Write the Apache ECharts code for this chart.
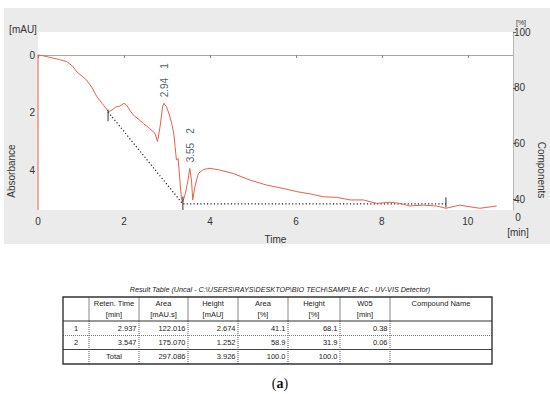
<!DOCTYPE html>
<html><head><meta charset="utf-8">
<script src="https://cdn.jsdelivr.net/npm/echarts@6/dist/echarts.min.js"></script>
<style>html,body{margin:0;padding:0;background:#fff}#c{width:550px;height:394px}</style>
</head><body><div id="c"></div>
<script>
// ---- data ----
const traceTime = [0, 0, 0.1, 0.27, 0.5, 0.67, 0.8, 0.9, 1.13, 1.25, 1.37, 1.5, 1.64, 1.7, 1.75, 1.82, 1.9, 2.0, 2.06, 2.14, 2.22, 2.35, 2.45, 2.6, 2.72, 2.78, 2.84, 2.9, 2.93, 2.99, 3.05, 3.11, 3.16, 3.19, 3.22, 3.26, 3.30, 3.34, 3.37, 3.43, 3.49, 3.53, 3.57, 3.60, 3.65, 3.73, 3.85, 4.0, 4.23, 4.54, 4.93, 5.31, 5.7, 6.02, 6.33, 6.64, 6.95, 7.26, 7.57, 7.88, 8.19, 8.42, 8.65, 8.96, 9.27, 9.49, 9.81, 10.05, 10.28, 10.67];
const traceAbs = [5.39, 0, 0.02, 0.08, 0.16, 0.23, 0.38, 0.58, 0.87, 1.12, 1.45, 1.7, 1.97, 1.93, 1.88, 1.8, 1.78, 1.68, 1.74, 1.93, 2.09, 2.25, 2.38, 2.56, 2.72, 3.01, 2.49, 1.78, 1.68, 1.8, 2.05, 2.38, 2.75, 3.19, 3.65, 3.6, 4.35, 5.04, 5.1, 4.81, 4.35, 3.94, 4.35, 5.04, 4.58, 4.12, 3.98, 3.94, 4.0, 4.12, 4.35, 4.52, 4.64, 4.75, 4.83, 4.93, 4.95, 5.04, 5.04, 5.16, 5.12, 5.16, 5.25, 5.22, 5.25, 5.33, 5.22, 5.28, 5.33, 5.25];
const baselineTime = [1.63, 3.37, 9.49];
const baselineAbs = [1.98, 5.18, 5.18];
const markerTime = [1.63, 3.37, 9.49];
const markerTop = [1.9, 4.92, 4.95];
const markerBottom = [2.3, 5.39, 5.3];
const peakTime = [2.94, 3.55];
const peakApex = [1.68, 3.94];
const peakText = ['2.94', '3.55'];
const peakNo = ['1', '2'];
const xTicks = [0, 2, 4, 6, 8, 10];
const leftTicks = [0, 2, 4];
const rightTicks = [40, 60, 80, 100];
const tableTitle = 'Result Table (Uncal - C:\\USERS\\RAYS\\DESKTOP\\BIO TECH\\SAMPLE AC - UV-VIS Detector)';
const tableHead1 = ['', 'Reten. Time', 'Area', 'Height', 'Area', 'Height', 'W05', 'Compound Name'];
const tableHead2 = ['', '[min]', '[mAU.s]', '[mAU]', '[%]', '[%]', '[min]', ''];
const rowNo = ['1', '2', ''];
const retTime = ['2.937', '3.547', 'Total'];
const areaAbs = ['122.016', '175.070', '297.086'];
const heightAbs = ['2.674', '1.252', '3.926'];
const areaPct = ['41.1', '58.9', '100.0'];
const heightPct = ['68.1', '31.9', '100.0'];
const w05 = ['0.38', '0.06', ''];
const compound = ['', '', ''];

// ---- build ----
const FONT = 'Liberation Sans, Arial, sans-serif';
const trace = traceTime.map((t, i) => [t, traceAbs[i]]);
const baseline = baselineTime.map((t, i) => [t, baselineAbs[i]]);

const series = [
  { type: 'line', data: trace, showSymbol: false, symbol: 'none', lineStyle: { color: '#e8604c', width: 1 }, z: 5 },
  { type: 'line', data: baseline, showSymbol: false, symbol: 'none', lineStyle: { color: '#222', width: 1.2, type: [1.2, 2.2] }, z: 4 }
];
markerTime.forEach((t, i) => {
  series.push({ type: 'line', data: [[t, markerTop[i]], [t, markerBottom[i]]], symbol: 'none', lineStyle: { color: '#333', width: 1 }, z: 6 });
});
series.push({
  type: 'scatter', symbolSize: 0, z: 7,
  data: peakTime.map((t, i) => ({ value: [t, peakApex[i]], name: peakText[i], no: peakNo[i] })),
  label: {
    show: true, position: 'top', distance: 6, rotate: 90, align: 'left', verticalAlign: 'middle',
    formatter: p => '{a|' + p.data.name + '}{g|}{b|' + p.data.no + '}',
    rich: {
      a: { color: '#163d3d', fontSize: 10, fontFamily: FONT },
      g: { width: 9 },
      b: { color: '#163d3d', fontSize: 10, fontFamily: FONT }
    }
  }
});

// table graphics
const colX = [63, 89, 139, 188, 238, 288, 340, 390, 492];
const rowY = [297, 321, 335.5, 349.5, 364];
const body = [rowNo, retTime, areaAbs, heightAbs, areaPct, heightPct, w05, compound];
const tfont = { fontFamily: FONT, fontSize: 7.5, fill: '#222' };
const tg = [];
tg.push({ type: 'text', style: Object.assign({}, tfont, { text: tableTitle, x: 280, y: 289, align: 'center', verticalAlign: 'middle', fontStyle: 'italic', fontSize: 7.2 }) });
// vertical lines
for (let c = 1; c < colX.length - 1; c++) {
  tg.push({ type: 'line', shape: { x1: colX[c], y1: rowY[0], x2: colX[c], y2: rowY[1] }, style: { stroke: '#888', lineWidth: 1 } });
  tg.push({ type: 'line', shape: { x1: colX[c], y1: rowY[1], x2: colX[c], y2: rowY[4] }, style: { stroke: '#555', lineWidth: 1, lineDash: [1, 1] } });
}
tg.push({ type: 'line', shape: { x1: colX[0], y1: rowY[1], x2: colX[8], y2: rowY[1] }, style: { stroke: '#333', lineWidth: 1.2 } });
tg.push({ type: 'line', shape: { x1: colX[0], y1: rowY[2], x2: colX[8], y2: rowY[2] }, style: { stroke: '#777', lineWidth: 1, lineDash: [1, 1] } });
tg.push({ type: 'line', shape: { x1: colX[0], y1: rowY[3], x2: colX[8], y2: rowY[3] }, style: { stroke: '#444', lineWidth: 1 } });
tg.push({ type: 'rect', shape: { x: colX[0], y: rowY[0], width: colX[8] - colX[0], height: rowY[4] - rowY[0] }, style: { fill: 'none', stroke: '#333', lineWidth: 1.4 } });
// header
for (let c = 1; c < colX.length - 1; c++) {
  const cx = (colX[c] + colX[c + 1]) / 2;
  tg.push({ type: 'text', style: Object.assign({}, tfont, { text: tableHead1[c], x: cx, y: 303, align: 'center', verticalAlign: 'middle' }) });
  if (tableHead2[c]) tg.push({ type: 'text', style: Object.assign({}, tfont, { text: tableHead2[c], x: cx, y: 314, align: 'center', verticalAlign: 'middle' }) });
}
// body
for (let r = 0; r < 3; r++) {
  const cy = (rowY[r + 1] + rowY[r + 2]) / 2;
  for (let c = 0; c < body.length; c++) {
    const v = body[c][r];
    if (!v) continue;
    let x, align;
    if (c === 0 || v === 'Total') { x = (colX[c] + colX[c + 1]) / 2; align = 'center'; }
    else { x = colX[c + 1] - 2.5; align = 'right'; }
    tg.push({ type: 'text', style: Object.assign({}, tfont, { text: v, x: x, y: cy, align: align, verticalAlign: 'middle' }) });
  }
}
tg.push({ type: 'text', style: { text: '({b|a})', x: 280, y: 383, align: 'center', verticalAlign: 'middle', fontFamily: 'Liberation Serif, serif', fontSize: 14, fill: '#111', rich: { b: { fontWeight: 'bold', fontFamily: 'Liberation Serif, serif', fontSize: 14, fill: '#111' } } } });

const lfont = { fontFamily: FONT, fontSize: 10, fill: '#333' };
const graphic = [
  { type: 'rect', z: -10, shape: { x: 4, y: 8, width: 546, height: 236 }, style: { fill: '#ebebeb' } },
  { type: 'text', style: Object.assign({}, lfont, { text: '[mAU]', x: 23, y: 29, align: 'center', verticalAlign: 'middle' }) },
  { type: 'text', rotation: Math.PI / 2, x: 11, y: 171, style: Object.assign({}, lfont, { text: 'Absorbance', x: 0, y: 0, align: 'center', verticalAlign: 'middle' }) },
  { type: 'text', rotation: -Math.PI / 2, x: 541, y: 170, style: Object.assign({}, lfont, { text: 'Components', x: 0, y: 0, align: 'center', verticalAlign: 'middle' }) },
  { type: 'text', style: Object.assign({}, lfont, { text: '[min]', x: 518, y: 232, align: 'center', verticalAlign: 'middle' }) },
  { type: 'text', style: Object.assign({}, lfont, { text: '0', x: 518, y: 217, align: 'center', verticalAlign: 'middle' }) },
  { type: 'text', style: Object.assign({}, lfont, { text: '[%]', x: 521, y: 22, align: 'center', verticalAlign: 'middle', fontSize: 7 }) }
].concat(tg);

const chart = echarts.init(document.getElementById('c'), null, { renderer: 'svg' });
chart.setOption({
  animation: false,
  backgroundColor: '#fff',
  grid: { left: 38, right: 37, top: 32, bottom: 184, show: true, backgroundColor: '#fff', borderWidth: 0 },
  xAxis: {
    type: 'value', min: 0, max: 11.05,
    name: 'Time', nameLocation: 'middle', nameGap: 24, nameTextStyle: { fontFamily: FONT, fontSize: 10, color: '#333' },
    axisLine: { show: true, lineStyle: { color: '#a8a8a8' } },
    axisTick: { show: true, length: 3, customValues: xTicks, lineStyle: { color: '#888' } },
    axisLabel: { customValues: xTicks, fontFamily: FONT, fontSize: 10, color: '#333', margin: 6 },
    splitLine: { show: false }
  },
  yAxis: [
    {
      type: 'value', inverse: true, min: -0.8, max: 5.39, position: 'left',
      axisLine: { show: false }, axisTick: { show: false, customValues: leftTicks },
      axisLabel: { customValues: leftTicks, fontFamily: FONT, fontSize: 10, color: '#333', margin: 3 },
      splitLine: { show: false }
    },
    {
      type: 'value', min: 36.2, max: 100, position: 'right',
      axisLine: { show: true, lineStyle: { color: '#b8b8b8' } },
      axisTick: { show: true, length: 3, customValues: rightTicks, lineStyle: { color: '#666' } },
      axisLabel: { customValues: rightTicks, fontFamily: FONT, fontSize: 10, color: '#333', margin: 1 },
      splitLine: { show: false }
    }
  ],
  graphic: graphic,
  series: series
});
</script>
</body></html>
